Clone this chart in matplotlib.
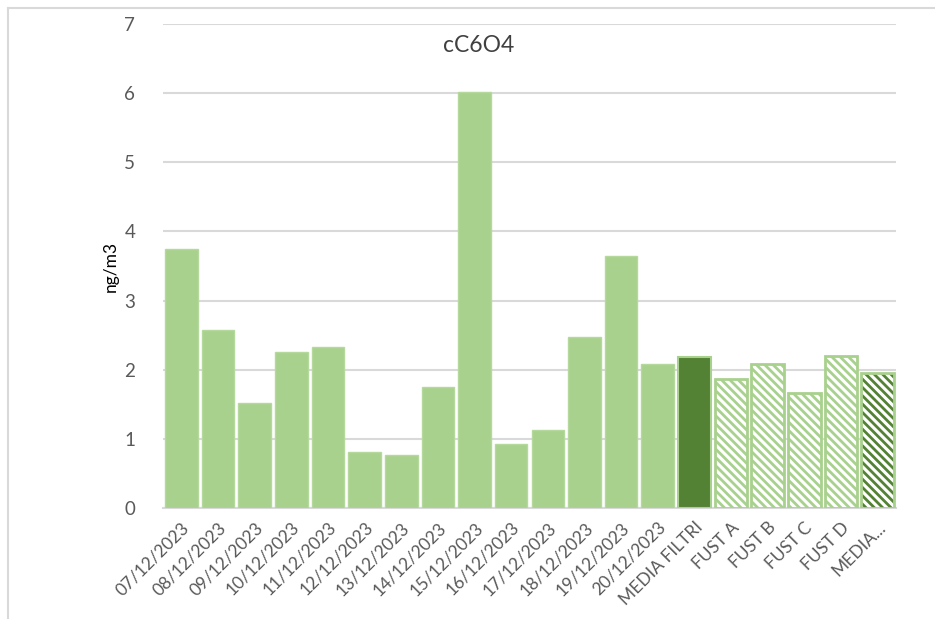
import matplotlib
matplotlib.use("Agg")
import matplotlib.pyplot as plt
from matplotlib.lines import Line2D

# Daily filter samples, their mean, passive samplers (FUST) and their mean
categories = ["07/12/2023", "08/12/2023", "09/12/2023", "10/12/2023", "11/12/2023",
              "12/12/2023", "13/12/2023", "14/12/2023", "15/12/2023", "16/12/2023",
              "17/12/2023", "18/12/2023", "19/12/2023", "20/12/2023",
              "MEDIA FILTRI", "FUST A", "FUST B", "FUST C", "FUST D", "MEDIA..."]
daily_values = [3.75, 2.58, 1.52, 2.25, 2.33, 0.81, 0.77, 1.75, 6.01, 0.92,
                1.13, 2.48, 3.65, 2.08]
media_filtri = 2.19
fust_values = [1.87, 2.08, 1.66, 2.20]
media_fust = 1.95

LIGHT = "#A9D18E"
DARK = "#548235"
GRID = "#D9D9D9"
TEXT = "#595959"

plt.rcParams["font.family"] = ["Lato", "DejaVu Sans"]
plt.rcParams["hatch.linewidth"] = 2.0

fig = plt.figure(figsize=(9.35, 6.19), dpi=100)
ax = fig.add_axes([0.1743, 0.1793, 0.784, 0.7819])

w = 0.89
HATCH = "\\\\\\\\"
n_daily = len(daily_values)
x_daily = list(range(n_daily))
ax.bar(x_daily, daily_values, width=w, color=LIGHT, edgecolor="#B5D99C",
       linewidth=1.0, zorder=3)

x_mf = n_daily
ax.bar([x_mf], [media_filtri], width=w, color=DARK, edgecolor=LIGHT,
       linewidth=1.5, zorder=3)

x_fust = [n_daily + 1 + i for i in range(len(fust_values))]
ax.bar(x_fust, fust_values, width=w, color="white", edgecolor=LIGHT,
       hatch=HATCH, linewidth=0, zorder=3)
ax.bar(x_fust, fust_values, width=w, fill=False, edgecolor=LIGHT,
       linewidth=2.0, zorder=4)

x_mfu = n_daily + 1 + len(fust_values)
ax.bar([x_mfu], [media_fust], width=w, color="white", edgecolor=DARK,
       hatch=HATCH, linewidth=0, zorder=3)
ax.bar([x_mfu], [media_fust], width=w, fill=False, edgecolor=LIGHT,
       linewidth=2.0, zorder=4)

ax.set_xlim(-0.5, len(categories) - 0.5)
ax.set_ylim(0, 7)
ax.set_yticks(range(0, 8))
ax.yaxis.grid(True, color=GRID, linewidth=1.5, zorder=0)
ax.set_axisbelow(True)

for side in ("top", "right", "left"):
    ax.spines[side].set_visible(False)
ax.spines["bottom"].set_color(GRID)
ax.spines["bottom"].set_linewidth(1.5)

ax.tick_params(axis="y", length=0, pad=20, labelsize=13.5, labelcolor=TEXT)
ax.tick_params(axis="x", length=0, pad=8, labelsize=12.5, labelcolor=TEXT)
ax.set_xticks(range(len(categories)))
ax.set_xticklabels(categories, rotation=45, ha="right", va="top",
                   rotation_mode="anchor")

ax.set_ylabel("ng/m3", fontsize=12.5, color="#000000", labelpad=4)

fig.text(479 / 935, 1 - 45 / 619, "cC6O4", ha="center", va="center",
         fontsize=16.5, color="#404040")

# chart frame lines along the top and left edges
fig.add_artist(Line2D([8 / 935, 1.0], [1 - 8 / 619, 1 - 8 / 619],
                      transform=fig.transFigure, color=GRID, linewidth=1.5))
fig.add_artist(Line2D([8 / 935, 8 / 935], [0.0, 1 - 8 / 619],
                      transform=fig.transFigure, color=GRID, linewidth=1.5))

fig.savefig("out.png", dpi=100, facecolor="white")
